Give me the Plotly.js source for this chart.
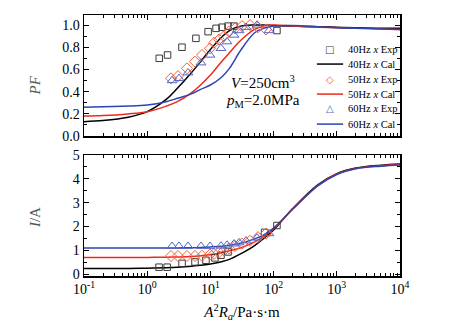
<!DOCTYPE html>
<html>
<head>
<meta charset="utf-8">
<script src="https://cdn.plot.ly/plotly-3.0.1.min.js"></script>
<style>html,body{margin:0;padding:0;background:#fff;}#chart{width:454px;height:327px;}</style>
</head>
<body>
<div id="chart"></div>
<script>
// ---------- data ----------
// calculated curves: common x grid (A^2 R_a, Pa·s·m)
var xCal = [0.1, 0.2, 0.5, 1, 2, 3, 5, 7, 10, 15, 20, 30, 50, 70, 100, 200, 500, 1000, 2000, 5000, 10000];
var pfCal40 = [0.13, 0.14, 0.17, 0.22, 0.33, 0.43, 0.57, 0.67, 0.78, 0.89, 0.95, 0.99, 1.0, 1.0, 0.995, 0.99, 0.985, 0.98, 0.975, 0.97, 0.97];
var pfCal50 = [0.18, 0.185, 0.20, 0.22, 0.27, 0.31, 0.39, 0.46, 0.55, 0.67, 0.75, 0.86, 0.96, 0.99, 1.0, 0.99, 0.98, 0.975, 0.97, 0.965, 0.96];
var pfCal60 = [0.26, 0.265, 0.27, 0.28, 0.31, 0.34, 0.38, 0.42, 0.46, 0.53, 0.61, 0.77, 0.93, 0.97, 0.99, 0.995, 0.985, 0.975, 0.97, 0.965, 0.96];
var iCal40 = [0.24, 0.24, 0.24, 0.25, 0.27, 0.29, 0.33, 0.37, 0.42, 0.52, 0.62, 0.85, 1.2, 1.5, 1.85, 2.75, 3.75, 4.22, 4.45, 4.57, 4.62];
var iCal50 = [0.70, 0.70, 0.70, 0.70, 0.71, 0.72, 0.74, 0.77, 0.82, 0.90, 0.98, 1.10, 1.35, 1.58, 1.90, 2.72, 3.72, 4.20, 4.43, 4.55, 4.60];
var iCal60 = [1.10, 1.10, 1.10, 1.10, 1.10, 1.10, 1.11, 1.12, 1.14, 1.17, 1.21, 1.30, 1.48, 1.65, 1.93, 2.72, 3.70, 4.18, 4.42, 4.53, 4.58];

// experimental points
var xExp40 = [1.55, 2.1, 3.55, 5.9, 9.2, 12.3, 15.3, 19, 23.6, 113];
var pfExp40 = [0.70, 0.73, 0.80, 0.88, 0.94, 0.97, 0.98, 0.99, 0.99, 0.95];
var xExp40I = [1.54, 2.07, 3.56, 5.7, 8.5, 11.8, 14.7, 19, 72, 113];
var iExp40 = [0.29, 0.29, 0.45, 0.51, 0.58, 0.68, 0.79, 0.93, 1.75, 2.04];

var xExp50 = [2.38, 3.07, 4.26, 5.7, 7.36, 9.86, 11.4, 13.7, 16.4, 19.7, 24.5, 31.6, 42.4, 56.6, 75.9];
var pfExp50 = [0.52, 0.54, 0.61, 0.67, 0.73, 0.79, 0.84, 0.87, 0.90, 0.94, 0.97, 0.99, 1.0, 0.98, 0.96];
var iExp50 = [0.76, 0.76, 0.76, 0.76, 0.77, 0.82, 0.85, 0.92, 0.99, 1.08, 1.18, 1.28, 1.40, 1.55, 1.70];

var xExp60 = [2.47, 3.18, 4.42, 7.1, 9.86, 14.7, 18.3, 23.6, 28.4, 36.6, 54.6, 84.6];
var pfExp60 = [0.50, 0.52, 0.57, 0.66, 0.73, 0.79, 0.85, 0.91, 0.95, 0.98, 1.0, 0.95];
var iExp60 = [1.17, 1.17, 1.17, 1.17, 1.17, 1.18, 1.22, 1.27, 1.32, 1.40, 1.52, 1.70];

var xTickVals = [0.1, 1, 10, 100, 1000, 10000];
var xTickText = ['10<sup>-1</sup>', '10<sup>0</sup>', '10<sup>1</sup>', '10<sup>2</sup>', '10<sup>3</sup>', '10<sup>4</sup>'];
var legendLabels = ['40Hz <i>x</i> Exp', '40Hz <i>x</i> Cal', '50Hz <i>x</i> Exp', '50Hz <i>x</i> Cal', '60Hz <i>x</i> Exp', '60Hz <i>x</i> Cal'];

// ---------- styles ----------
var C40 = '#3a3a3a', C50m = '#f0603c', C60m = '#5567c4';
var L40 = '#000000', L50 = '#ee2a1c', L60 = '#2b46b2';
var FONT = 'Liberation Serif, Times New Roman, serif';

function expTrace(x, y, sym, col, xa, ya, sz) {
  return {x: x, y: y, xaxis: xa, yaxis: ya, type: 'scatter', mode: 'markers',
    marker: {symbol: sym, size: sz, color: col, line: {color: col, width: 1}},
    showlegend: false, hoverinfo: 'x+y'};
}
function calTrace(x, y, col, xa, ya) {
  return {x: x, y: y, xaxis: xa, yaxis: ya, type: 'scatter', mode: 'lines',
    line: {color: col, width: 1.5, shape: 'spline', smoothing: 1}, showlegend: false, hoverinfo: 'x+y'};
}

var traces = [
  calTrace(xCal, pfCal40, L40, 'x', 'y'),
  calTrace(xCal, pfCal50, L50, 'x', 'y'),
  calTrace(xCal, pfCal60, L60, 'x', 'y'),
  expTrace(xExp40, pfExp40, 'square-open', C40, 'x', 'y', 6.5),
  expTrace(xExp50, pfExp50, 'diamond-open', C50m, 'x', 'y', 8.5),
  expTrace(xExp60, pfExp60, 'triangle-up-open', C60m, 'x', 'y', 8.5),
  calTrace(xCal, iCal40, L40, 'x2', 'y2'),
  calTrace(xCal, iCal50, L50, 'x2', 'y2'),
  calTrace(xCal, iCal60, L60, 'x2', 'y2'),
  expTrace(xExp40I, iExp40, 'square-open', C40, 'x2', 'y2', 6.5),
  expTrace(xExp50, iExp50, 'diamond-open', C50m, 'x2', 'y2', 8.5),
  expTrace(xExp60, iExp60, 'triangle-up-open', C60m, 'x2', 'y2', 8.5)
];

var axBase = {
  showline: true, linecolor: '#000', linewidth: 1.5, mirror: 'allticks',
  ticks: 'inside', ticklen: 5, tickwidth: 1, tickcolor: '#000',
  showgrid: false, zeroline: false,
  tickfont: {family: FONT, size: 14, color: '#000'}
};
function ax(extra) { return Object.assign({}, JSON.parse(JSON.stringify(axBase)), extra); }

var layout = {
  width: 454, height: 327,
  margin: {l: 84, r: 54, t: 15, b: 51},
  paper_bgcolor: '#fff', plot_bgcolor: '#fff',
  font: {family: FONT, size: 14, color: '#000'},
  showlegend: false,
  xaxis: ax({type: 'log', range: [-1, 4], anchor: 'y', tickmode: 'array', tickvals: xTickVals,
    ticktext: xTickText, showticklabels: false,
    minor: {ticks: 'inside', ticklen: 3, tickcolor: '#000', dtick: 'D1', showgrid: false}}),
  yaxis: ax({range: [0, 1.09], domain: [0.536, 1], anchor: 'x', tickmode: 'array',
    tickvals: [0, 0.2, 0.4, 0.6, 0.8, 1.0], ticktext: ['0.0', '0.2', '0.4', '0.6', '0.8', '1.0'],
    minor: {ticks: 'inside', ticklen: 3, tickcolor: '#000', dtick: 0.1, tick0: 0, showgrid: false}}),
  xaxis2: ax({type: 'log', range: [-1, 4], anchor: 'y2', tickmode: 'array', tickvals: xTickVals,
    ticktext: xTickText,
    minor: {ticks: 'inside', ticklen: 3, tickcolor: '#000', dtick: 'D1', showgrid: false},
    title: {text: '<i>A</i><sup>2</sup><i>R<sub>a</sub></i>/Pa·s·m', font: {family: FONT, size: 15}, standoff: 10}}),
  yaxis2: ax({range: [-0.08, 5], domain: [0, 0.4636], anchor: 'x2', tickmode: 'array',
    tickvals: [0, 1, 2, 3, 4, 5],
    minor: {ticks: 'inside', ticklen: 3, tickcolor: '#000', dtick: 0.5, tick0: 0, showgrid: false}}),
  annotations: [
    {xref: 'paper', yref: 'paper', x: -0.155, y: 0.73, xanchor: 'center', yanchor: 'middle',
      text: '<i>PF</i>', textangle: -90, showarrow: false, font: {family: FONT, size: 15, color: '#555'}},
    {xref: 'paper', yref: 'paper', x: -0.155, y: 0.222, xanchor: 'center', yanchor: 'middle',
      text: '<i>I</i>/A', textangle: -90, showarrow: false, font: {family: FONT, size: 15, color: '#555'}},
    {xref: 'paper', yref: 'paper', x: 0.565, y: 0.745, xanchor: 'center', yanchor: 'middle',
      text: '<i>V</i>=250cm<sup>3</sup>', showarrow: false, font: {family: FONT, size: 15}},
    {xref: 'paper', yref: 'paper', x: 0.566, y: 0.672, xanchor: 'center', yanchor: 'middle',
      text: '<i>p</i><sub>M</sub>=2.0MPa', showarrow: false, font: {family: FONT, size: 15}}
  ],
  shapes: []
};

// hand-drawn legend (compact spacing as in the reference)
var rowsY = [0.866, 0.812, 0.751, 0.697, 0.640, 0.582];
var legSym = ['□', null, '◇', null, '△', null];
var legCol = [C40, L40, C50m, L50, C60m, L60];
for (var i = 0; i < 6; i++) {
  layout.annotations.push({xref: 'paper', yref: 'paper', x: 0.829, y: rowsY[i], xanchor: 'left', yanchor: 'middle',
    text: legendLabels[i], showarrow: false, font: {family: FONT, size: 10.5, color: '#000'}});
  if (legSym[i]) {
    layout.annotations.push({xref: 'paper', yref: 'paper', x: 0.778, y: rowsY[i], xanchor: 'center', yanchor: 'middle',
      text: legSym[i], showarrow: false, font: {family: 'DejaVu Sans', size: 10, color: legCol[i]}});
  } else {
    layout.shapes.push({type: 'line', xref: 'paper', yref: 'paper', x0: 0.737, x1: 0.820,
      y0: rowsY[i], y1: rowsY[i], line: {color: legCol[i], width: 1.5}});
  }
}

Plotly.newPlot('chart', traces, layout, {displayModeBar: false, staticPlot: true});
</script>
</body>
</html>
